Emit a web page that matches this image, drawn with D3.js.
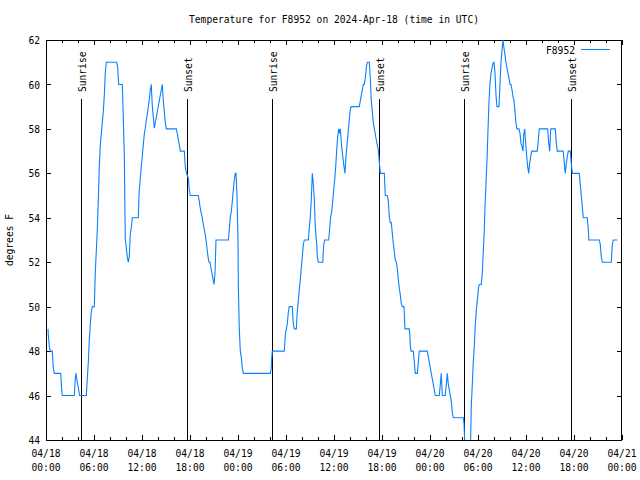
<!DOCTYPE html>
<html><head><meta charset="utf-8">
<script src="https://cdn.jsdelivr.net/npm/d3@7"></script>
<style>
body{margin:0;background:#fff}
text{font-family:'DejaVu Sans Mono',monospace;font-size:10px;fill:#000}
</style>
</head><body><svg id="c" width="640" height="480"></svg>
<script>
const chartTitle = "Temperature for F8952 on 2024-Apr-18 (time in UTC)";
const seriesName = "F8952";
const yAxisLabel = "degrees F";
const startUTC = Date.UTC(2024, 3, 18, 0, 0);
const endUTC = Date.UTC(2024, 3, 21, 0, 0);
const yTicks = [44, 46, 48, 50, 52, 54, 56, 58, 60, 62];
const xMajorHours = [0, 6, 12, 18, 24, 30, 36, 42, 48, 54, 60, 66, 72];
const xMinorHours = d3.range(0, 73, 2);
const sunEventNames = ["Sunrise", "Sunset", "Sunrise", "Sunset", "Sunrise", "Sunset"];
const sunEventHours = [4.35, 17.65, 28.3, 41.67, 52.27, 65.67];

const hoursFromStart = [
0.25,0.29,0.41,0.54,0.79,0.91,1.04,1.84,1.96,2.04,3.54,3.66,3.75,3.84,3.96,4.09,4.21,5.04,5.16,5.29,5.41,5.54,5.66,5.79,6.04,6.16,6.29,6.41,6.54,6.66,6.79,6.91,7.04,7.16,7.29,7.41,7.54,8.84,8.96,9.04,9.09,9.54,9.66,9.79,9.91,10.0,10.16,10.29,10.41,10.54,10.66,10.79,11.54,11.6,11.66,11.79,11.91,12.04,12.16,12.29,12.41,12.54,12.66,12.79,12.91,13.04,13.16,13.29,13.41,13.54,13.66,13.79,13.91,14.04,14.16,14.29,14.41,14.54,14.66,14.79,14.91,15.04,16.29,16.41,16.54,16.66,16.79,17.29,17.41,17.54,17.79,17.91,18.04,19.04,19.16,19.25,19.375,19.5,19.625,19.875,20.0,20.25,20.375,20.5,20.625,20.75,20.875,21.0,21.125,21.25,22.79,22.91,23.04,23.16,23.29,23.41,23.54,23.66,23.75,23.875,24.0,24.04,24.16,24.29,24.41,24.54,24.66,
28.04,28.16,28.22,28.29,29.79,29.91,30.04,30.16,30.29,30.41,30.79,30.91,31.04,31.29,31.41,31.54,31.66,31.79,31.91,32.04,32.16,32.29,32.79,32.91,33.04,33.16,33.29,33.41,33.54,33.66,33.79,33.85,33.91,34.04,34.59,34.71,34.84,35.34,35.46,35.59,35.71,35.84,35.96,36.09,36.21,36.34,36.46,36.59,36.71,36.79,36.96,37.09,37.25,37.375,37.5,37.625,37.75,37.875,38.0,38.125,39.16,39.29,39.41,39.54,39.66,39.79,39.91,40.04,40.16,40.41,40.54,40.66,40.79,40.91,41.04,41.16,41.29,41.41,41.54,41.66,41.79,42.29,42.41,42.66,42.79,42.91,43.04,43.16,43.29,43.41,43.54,43.66,43.79,43.91,44.04,44.16,44.29,44.41,44.54,44.75,44.875,45.41,45.48,45.54,45.625,45.91,46.04,46.16,46.41,46.54,46.66,47.66,47.79,47.91,48.04,48.16,48.29,48.41,48.54,48.66,
49.16,49.29,49.41,49.54,49.91,50.04,50.16,50.29,50.41,50.54,50.66,50.79,50.91,52.16,52.25,52.375,53.06,53.16,53.29,53.41,53.54,53.66,53.79,53.91,54.04,54.16,54.41,54.54,54.66,54.79,54.875,55.0,55.125,55.25,55.375,55.5,55.625,55.75,55.875,56.0,56.125,56.25,56.375,56.625,56.75,56.875,57.0,57.125,57.25,57.375,57.5,57.625,57.75,57.875,58.0,58.125,58.25,58.375,58.5,58.625,58.75,58.875,59.125,59.25,59.375,59.5,59.625,59.71,59.84,59.96,60.09,60.21,60.34,60.46,60.59,60.71,61.41,61.54,61.66,62.71,62.84,62.96,63.09,63.66,63.79,63.91,64.66,64.79,64.91,65.04,65.16,65.29,65.54,65.66,65.79,66.66,66.79,66.91,67.04,67.16,67.66,67.79,67.85,69.16,69.29,69.41,69.54,70.66,70.79,70.91,71.41
];
const tempF = [
49.0,48.72,48.23,48.0,48.0,47.25,47.0,47.0,46.25,46.0,46.0,46.75,47.0,46.75,46.5,46.25,46.0,46.0,46.75,47.5,48.5,49.22,49.77,50.0,50.0,51.53,52.52,53.45,54.76,56.3,57.28,57.77,58.28,58.77,59.52,60.53,61.0,61.0,60.77,60.28,60.0,60.0,58.52,56.78,53.0,52.78,52.25,52.0,52.25,53.3,53.54,54.0,54.0,54.75,55.25,55.78,56.3,56.78,57.28,57.77,58.03,58.4,58.63,59.0,59.3,59.75,60.0,59.0,58.55,58.03,58.28,58.52,58.77,59.03,59.27,59.52,59.75,60.0,59.27,58.77,58.28,58.0,58.0,57.77,57.53,57.28,57.0,57.0,56.3,56.03,55.78,55.25,55.0,55.0,54.75,54.5,54.27,54.05,53.78,53.3,53.0,52.25,52.0,52.0,51.73,51.5,51.25,51.0,51.5,53.0,53.0,53.45,54.05,54.27,54.75,55.25,55.7,56.0,56.0,55.0,53.0,51.0,49.0,48.0,47.73,47.25,47.0,
47.0,47.25,47.73,48.0,48.0,48.73,49.0,49.22,49.73,50.0,50.0,49.22,49.0,49.0,49.77,50.27,50.75,51.23,51.73,52.25,52.78,53.0,53.0,53.52,54.05,54.8,56.0,55.55,54.8,53.6,53.0,52.78,52.25,52.0,52.0,52.78,53.0,53.0,53.52,54.05,54.27,54.75,55.25,55.7,56.3,57.05,57.65,58.0,57.8,58.0,57.2,56.78,56.3,56.0,56.78,57.28,57.77,58.28,58.77,59.0,59.0,59.27,59.52,59.75,60.0,60.0,60.28,60.77,61.0,61.0,60.28,59.27,58.77,58.28,58.0,57.77,57.5,57.28,57.05,56.52,56.0,56.0,55.0,55.0,54.75,54.05,53.78,53.78,53.3,52.85,52.47,52.1,52.0,51.73,51.23,50.83,50.53,50.15,50.0,50.0,49.0,49.0,48.73,48.23,48.0,48.0,47.5,47.0,47.0,47.5,48.0,48.0,47.73,47.5,47.25,47.0,46.75,46.5,46.25,46.0,
46.0,46.5,47.0,46.0,46.0,46.5,47.0,46.5,46.25,46.0,45.75,45.23,45.0,45.0,44.75,43.6,43.6,45.5,46.52,47.5,48.23,49.18,49.82,50.27,50.78,51.0,51.0,51.53,52.52,53.45,54.5,55.55,56.6,57.95,59.22,60.05,60.5,60.73,60.95,61.0,60.5,59.52,59.0,59.0,60.05,61.0,61.52,62.0,61.63,61.33,61.0,60.73,60.5,60.28,60.0,60.0,59.75,59.45,59.27,58.77,58.25,58.0,58.0,57.8,57.35,57.2,57.0,57.73,58.0,57.35,56.75,56.3,56.0,56.45,56.75,57.0,57.0,57.5,58.0,58.0,57.35,57.0,58.0,58.0,57.35,57.0,57.0,56.45,56.0,56.45,56.75,57.0,57.0,56.45,56.0,56.0,55.48,55.0,54.5,54.0,54.0,53.45,53.0,53.0,52.78,52.25,52.0,52.0,52.78,53.0,53.0
];

const m = {left: 46, right: 622, top: 40, bottom: 440};
const svg = d3.select("#c");
const H2MS = 3600e3;
const toDate = h => new Date(startUTC + h * H2MS);

const x = d3.scaleUtc().domain([new Date(startUTC), new Date(endUTC)]).range([m.left, m.right]);
const y = d3.scaleLinear().domain([44, 62]).range([m.bottom, m.top]);

const CW = 5.8;
function fit(sel) {
  sel.each(function () {
    const s = this.textContent;
    this.setAttribute("textLength", (s.length * CW).toFixed(1));
    this.setAttribute("lengthAdjust", "spacingAndGlyphs");
  });
  return sel;
}

// Title
fit(svg.append("text").attr("x", 334).attr("y", 23).attr("text-anchor", "middle").text(chartTitle));

// Y axis label
fit(svg.append("text").attr("transform", "translate(13,240) rotate(-90)").attr("text-anchor", "middle").text(yAxisLabel));

// Axes (ticks inward)
const gL = svg.append("g").attr("transform", `translate(${m.left},0)`)
  .call(d3.axisLeft(y).tickValues(yTicks).tickSize(-5).tickPadding(6).tickFormat(d3.format("d")));
const gR = svg.append("g").attr("transform", `translate(${m.right},0)`)
  .call(d3.axisRight(y).tickValues(yTicks).tickSize(-5).tickFormat(""));
const gBmin = svg.append("g").attr("transform", `translate(0,${m.bottom})`)
  .call(d3.axisBottom(x).tickValues(xMinorHours.map(toDate)).tickSize(-3).tickFormat(""));
const gTmin = svg.append("g").attr("transform", `translate(0,${m.top})`)
  .call(d3.axisTop(x).tickValues(xMinorHours.map(toDate)).tickSize(-3).tickFormat(""));
const gB = svg.append("g").attr("transform", `translate(0,${m.bottom})`)
  .call(d3.axisBottom(x).tickValues(xMajorHours.map(toDate)).tickSize(-5).tickFormat(""));
const gT = svg.append("g").attr("transform", `translate(0,${m.top})`)
  .call(d3.axisTop(x).tickValues(xMajorHours.map(toDate)).tickSize(-5).tickFormat(""));

[gL, gR, gBmin, gTmin, gB, gT].forEach(g => {
  g.select(".domain").remove();
  g.selectAll("line").attr("stroke", "#000").attr("shape-rendering", "crispEdges");
});
gL.selectAll("text").attr("font-family", "'DejaVu Sans Mono',monospace").attr("font-size", 10)
  .attr("fill", "#000").attr("dy", "0.36em").call(fit);

// two-line x labels
const fmtD = d3.utcFormat("%m/%d"), fmtT = d3.utcFormat("%H:%M");
const xl = svg.append("g");
xMajorHours.forEach(h => {
  const d = toDate(h), px = x(d);
  fit(xl.append("text").attr("x", px).attr("y", 457).attr("text-anchor", "middle").text(fmtD(d)));
  fit(xl.append("text").attr("x", px).attr("y", 470.5).attr("text-anchor", "middle").text(fmtT(d)));
});

// border
svg.append("rect").attr("x", m.left + 0.5).attr("y", m.top + 0.5)
  .attr("width", m.right - m.left - 1).attr("height", m.bottom - m.top)
  .attr("fill", "none").attr("stroke", "#000").attr("shape-rendering", "crispEdges");

// Sunrise / sunset markers
const yMarkTop = 59.34;
sunEventHours.forEach((h, i) => {
  const px = Math.round(x(toDate(h))) + 0.5;
  svg.append("line").attr("x1", px).attr("x2", px).attr("y1", y(yMarkTop)).attr("y2", y(44))
    .attr("stroke", "#000").attr("stroke-width", 1).attr("shape-rendering", "crispEdges");
  fit(svg.append("text").attr("transform", `translate(${px + 4.5},${y(yMarkTop) - 7}) rotate(-90)`)
    .attr("text-anchor", "start").text(sunEventNames[i]));
});

// clip
svg.append("clipPath").attr("id", "clip").append("rect")
  .attr("x", m.left).attr("y", m.top).attr("width", m.right - m.left).attr("height", m.bottom - m.top);

const pts = hoursFromStart.map((h, i) => [toDate(h), tempF[i]]);
const line = d3.line().x(d => x(d[0])).y(d => y(d[1]));
svg.append("path").datum(pts).attr("clip-path", "url(#clip)")
  .attr("d", line).attr("fill", "none").attr("stroke", "#0a80ff").attr("stroke-width", 1.1);

// Legend
fit(svg.append("text").attr("x", 575).attr("y", 53.5).attr("text-anchor", "end").text(seriesName));
svg.append("line").attr("x1", 581).attr("x2", 610).attr("y1", 49.5).attr("y2", 49.5)
  .attr("stroke", "#0a80ff").attr("stroke-width", 1);
</script>
</body></html>
